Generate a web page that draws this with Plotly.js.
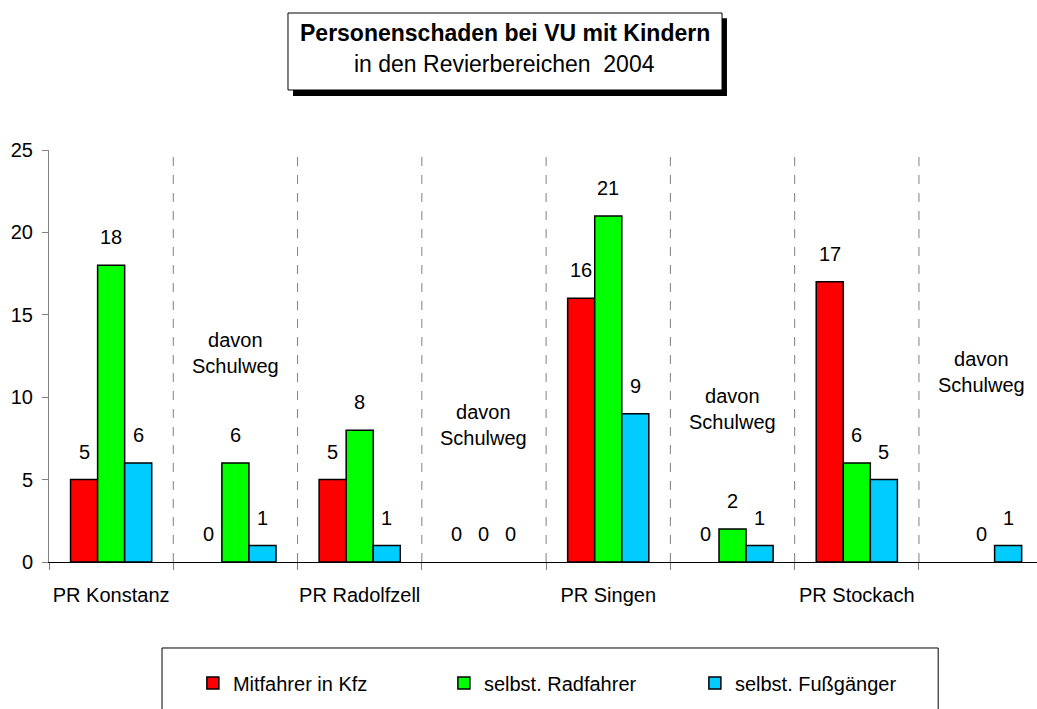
<!DOCTYPE html>
<html>
<head>
<meta charset="utf-8">
<script src="https://cdn.plot.ly/plotly-3.0.1.min.js"></script>
<style>html,body{margin:0;padding:0;background:#fff;}#chart{width:1037px;height:709px;}</style>
</head>
<body>
<div id="chart"></div>
<script>
const categories = ["PR Konstanz", "davon Schulweg", "PR Radolfzell", "davon Schulweg", "PR Singen", "davon Schulweg", "PR Stockach", "davon Schulweg"];
const seriesNames = ["Mitfahrer in Kfz", "selbst. Radfahrer", "selbst. Fußgänger"];
const mitfahrer = [5, 0, 5, 0, 16, 0, 17, null];
const radfahrer = [18, 6, 8, 0, 21, 2, 6, 0];
const fussgaenger = [6, 1, 1, 0, 9, 1, 5, 1];
const colors = ["#FF0000", "#00FF00", "#00CCFF"];
const titleLine1 = "Personenschaden bei VU mit Kindern";
const titleLine2 = "in den Revierbereichen  2004";
const yTicks = [0, 5, 10, 15, 20, 25];

const FONT = "Liberation Sans, Arial, sans-serif";
const FS = 20;
const idx = categories.map((c, i) => i);
const tickText = categories.map(c => c.startsWith("PR") ? c : "");
const allSeries = [mitfahrer, radfahrer, fussgaenger];

const traces = allSeries.map((vals, s) => ({
  type: "bar",
  name: seriesNames[s],
  x: idx,
  y: vals,
  marker: {color: colors[s], line: {color: "#000", width: vals.map(v => (v ? 1.5 : 0))}},
  hoverinfo: "skip"
}));

const annotations = [];
allSeries.forEach((vals, s) => {
  vals.forEach((v, i) => {
    if (v === null) return;
    annotations.push({
      x: i, y: v, xref: "x", yref: "y",
      text: String(v), showarrow: false,
      xshift: (s - 1) * 27, yshift: 28,
      font: {family: FONT, size: FS, color: "#000"}
    });
  });
});
// "davon Schulweg" labels
const davonY = {1: 12.7, 3: 8.3, 5: 9.3, 7: 11.5};
categories.forEach((c, i) => {
  if (c.startsWith("davon")) {
    annotations.push({
      x: i, y: davonY[i], xref: "x", yref: "y",
      text: "davon<br>Schulweg", showarrow: false,
      font: {family: FONT, size: FS, color: "#000"}
    });
  }
});
// title
annotations.push({xref: "paper", yref: "paper", x: 0.4615, y: 1.284, xanchor: "center", yanchor: "middle",
  text: "<b>" + titleLine1 + "</b>", showarrow: false, font: {family: FONT, size: 23, color: "#000"}});
annotations.push({xref: "paper", yref: "paper", x: 0.4615, y: 1.209, xanchor: "center", yanchor: "middle",
  text: titleLine2, showarrow: false, font: {family: FONT, size: 23, color: "#000"}});

const shapes = [];
for (let i = 0; i < categories.length - 1; i++) {
  shapes.push({type: "line", xref: "x", yref: "paper", x0: i + 0.5, x1: i + 0.5, y0: 0, y1: 1,
    line: {color: "#808080", width: 1, dash: "dash"}, layer: "below"});
}
// title box shadow and box
shapes.push({type: "rect", xref: "paper", yref: "paper", x0: 0.247, x1: 0.6862, y0: 1.131, y1: 1.320,
  fillcolor: "#000", line: {width: 0}});
shapes.push({type: "rect", xref: "paper", yref: "paper", x0: 0.2419, x1: 0.6812, y0: 1.1456, y1: 1.3325,
  fillcolor: "#fff", line: {color: "#000", width: 1}});
// legend box
shapes.push({type: "rect", xref: "paper", yref: "paper", x0: 0.1144, x1: 0.9, y0: -0.371, y1: -0.2087,
  fillcolor: "rgba(0,0,0,0)", line: {color: "#000", width: 1}});

const layout = {
  width: 1037, height: 709,
  margin: {l: 49, r: 0, t: 150, b: 147},
  paper_bgcolor: "#fff", plot_bgcolor: "#fff",
  font: {family: FONT, size: FS, color: "#000"},
  barmode: "group", bargap: 0.347, bargroupgap: 0,
  showlegend: true,
  legend: {orientation: "h", xref: "container", yref: "container", x: 0.186, xanchor: "left", y: 0.0367, yanchor: "middle",
    entrywidth: 206, entrywidthmode: "pixels", font: {family: FONT, size: FS, color: "#000"},
    bgcolor: "rgba(0,0,0,0)", borderwidth: 0},
  xaxis: {
    range: [-0.5, 7.45], tickvals: idx, ticktext: tickText, ticks: "", showgrid: false, zeroline: false,
    showline: true, linecolor: "#000", linewidth: 1, ticklabelstandoff: 15,
    tickfont: {family: FONT, size: FS, color: "#000"},
    minor: {tickvals: idx.map(i => i - 0.5), ticks: "outside", ticklen: 7, tickcolor: "#808080", showgrid: false}
  },
  yaxis: {
    range: [0, 25], tickvals: yTicks, ticks: "outside", ticklen: 6, tickcolor: "#808080",
    showline: true, linecolor: "#808080", linewidth: 1, showgrid: false, zeroline: false,
    ticklabelstandoff: 5,
    tickfont: {family: FONT, size: FS, color: "#000"}
  },
  shapes: shapes,
  annotations: annotations
};

Plotly.newPlot("chart", traces, layout, {displayModeBar: false, staticPlot: true});
</script>
</body>
</html>
